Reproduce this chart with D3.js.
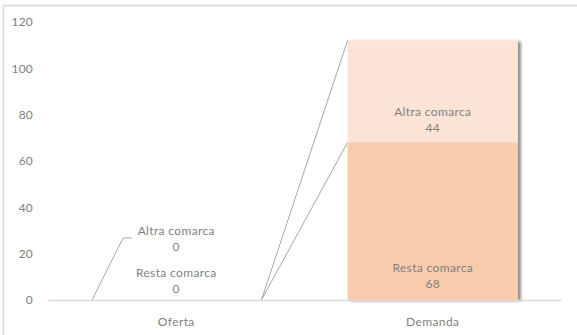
<!DOCTYPE html>
<html><head><meta charset="utf-8">
<script src="https://cdn.jsdelivr.net/npm/d3@7"></script>
<style>
html,body{margin:0;padding:0;background:#fff;}
svg{display:block;font-family:Lato, "Liberation Sans", sans-serif;}
</style></head>
<body>
<svg id="c" width="577" height="335"></svg>
<script>
const categories = ["Oferta", "Demanda"];
const seriesNames = ["Resta comarca", "Altra comarca"];
const restaValues = [0, 68];
const altraValues = [0, 44];
const yTicks = [0, 20, 40, 60, 80, 100, 120];

const svg = d3.select("#c");
const W = 577, H = 335;
const m = {left: 48, right: 16, top: 22, bottom: 35};
const x = d3.scaleBand().domain(categories).range([m.left, W - m.right]).paddingInner(0.336).paddingOuter(0.168);
const y = d3.scaleLinear().domain([0, 120]).range([H - m.bottom, m.top]);

// frame
svg.append("path").attr("d", `M3.5,${H} L3.5,5.5 L${W},5.5`).attr("fill","none").attr("stroke","#d9d9d9").attr("stroke-width",1.5);

const defs = svg.append("defs");
const f = defs.append("filter").attr("id","sh").attr("x","-10%").attr("y","-10%").attr("width","130%").attr("height","120%");
f.append("feGaussianBlur").attr("in","SourceAlpha").attr("stdDeviation",1.6).attr("result","b");
f.append("feOffset").attr("in","b").attr("dx",3).attr("dy",1).attr("result","o");
f.append("feComponentTransfer").attr("in","o").attr("result","o2").append("feFuncA").attr("type","linear").attr("slope",0.45);
const mg = f.append("feMerge"); mg.append("feMergeNode").attr("in","o2"); mg.append("feMergeNode").attr("in","SourceGraphic");

const data = categories.map((c,i)=>({cat:c, resta:restaValues[i], altra:altraValues[i]}));
const stack = d3.stack().keys(["resta","altra"])(data);
const colors = {resta:"#f8cbad", altra:"#fbe4d6"};

// y axis labels
const ya = svg.append("g").attr("transform",`translate(${m.left},0)`)
  .call(d3.axisLeft(y).tickValues(yTicks).tickSize(0).tickPadding(15));
ya.select(".domain").remove();
ya.selectAll("text").attr("fill","#7f7f7f").style("font-size","12px").style("font-family","Lato, sans-serif").style("letter-spacing","0.2px");

// bars
const bars = svg.append("g").attr("filter","url(#sh)");
stack.forEach(s=>{
  bars.selectAll(null).data(s.filter(d=>d[1]-d[0]>0)).enter().append("rect")
    .attr("x",d=>x(d.data.cat)).attr("width",x.bandwidth())
    .attr("y",d=>y(d[1])).attr("height",d=>y(d[0])-y(d[1]))
    .attr("fill",colors[s.key]);
});

// series lines between bars
const lg = svg.append("g").attr("stroke","#a6a6a6").attr("stroke-width",1).attr("fill","none");
stack.forEach(s=>{
  lg.append("line")
    .attr("x1",x(categories[0])+x.bandwidth()).attr("y1",y(s[0][1]))
    .attr("x2",x(categories[1])).attr("y2",y(s[1][1]));
});

// x axis
const xa = svg.append("g").attr("transform",`translate(0,${y(0)})`)
  .call(d3.axisBottom(x).tickSize(0).tickPadding(17));
xa.select(".domain").attr("stroke","#d9d9d9").attr("stroke-width",1.5);
xa.selectAll("text").attr("fill","#7f7f7f").style("font-size","12px").style("font-family","Lato, sans-serif").style("letter-spacing","0.4px");

// leader line for Oferta label
lg.append("polyline").attr("points",
  `${x("Oferta")+1},${y(0)} ${x("Oferta")+32},${y(0)-62} ${x("Oferta")+41},${y(0)-62}`);

// data labels
const lab = svg.append("g").attr("fill","#7f7f7f").attr("text-anchor","middle").style("font-size","12px").style("letter-spacing","0.35px");
const cx = c => x(c) + x.bandwidth()/2;
function label(c, name, val, by){
  lab.append("text").attr("x",cx(c)).attr("y",by).text(name);
  lab.append("text").attr("x",cx(c)).attr("y",by+16).text(val);
}
label("Oferta", seriesNames[1], altraValues[0], y(0)-65);
label("Oferta", seriesNames[0], restaValues[0], y(0)-23);
label("Demanda", seriesNames[1], altraValues[1], y(restaValues[1]+altraValues[1]/2)-25+49);
label("Demanda", seriesNames[0], restaValues[1], y(0)-28);
</script>
</body></html>
